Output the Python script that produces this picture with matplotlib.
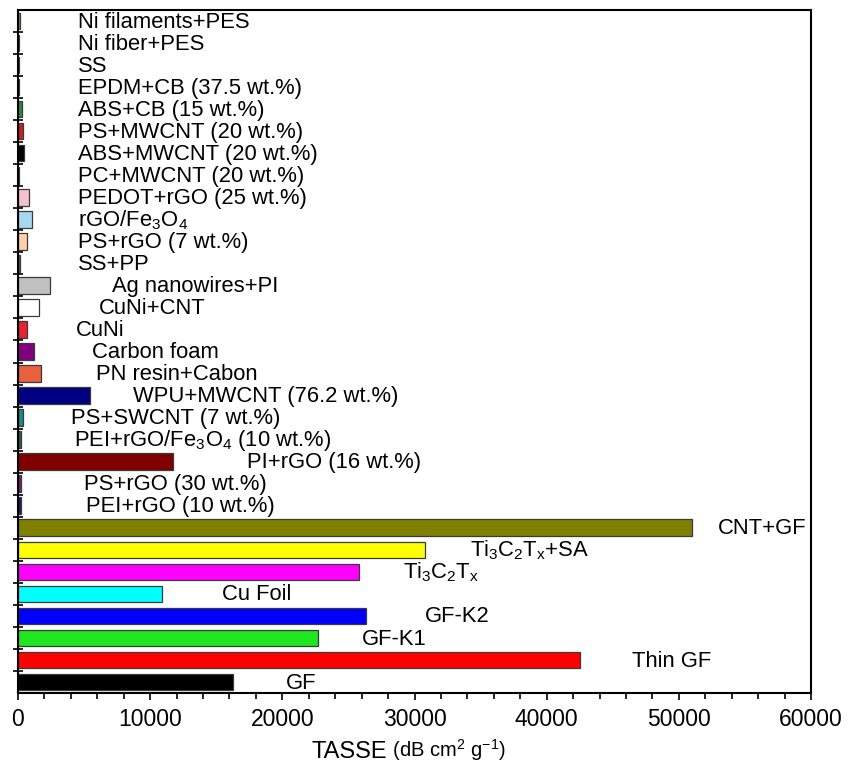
import matplotlib
matplotlib.use('agg')
import matplotlib.pyplot as plt
from matplotlib.ticker import MultipleLocator

plt.rcParams['font.family'] = 'Liberation Sans'
plt.rcParams['mathtext.fontset'] = 'custom'
plt.rcParams['mathtext.rm'] = 'Liberation Sans'
plt.rcParams['mathtext.it'] = 'Liberation Sans'

# materials listed top to bottom
materials = [
    "Ni filaments+PES", "Ni fiber+PES", "SS", "EPDM+CB (37.5 wt.%)",
    "ABS+CB (15 wt.%)", "PS+MWCNT (20 wt.%)", "ABS+MWCNT (20 wt.%)",
    "PC+MWCNT (20 wt.%)", "PEDOT+rGO (25 wt.%)", "rGO/Fe$_3$O$_4$",
    "PS+rGO (7 wt.%)", "SS+PP", "Ag nanowires+PI", "CuNi+CNT", "CuNi",
    "Carbon foam", "PN resin+Cabon", "WPU+MWCNT (76.2 wt.%)",
    "PS+SWCNT (7 wt.%)", "PEI+rGO/Fe$_3$O$_4$ (10 wt.%)", "PI+rGO (16 wt.%)",
    "PS+rGO (30 wt.%)", "PEI+rGO (10 wt.%)",
    "CNT+GF", "Ti$_3$C$_2$T$_x$+SA", "Ti$_3$C$_2$T$_x$", "Cu Foil",
    "GF-K2", "GF-K1", "Thin GF", "GF",
]
tasse = [
    120, 50, 40, 40, 300, 400, 480, 100, 830, 1040, 700, 150, 2420, 1610,
    700, 1230, 1720, 5450, 350, 230, 11760, 250, 200,
    51000, 30800, 25800, 10900, 26300, 22700, 42500, 16300,
]
colors = [
    '#9a9a3a', '#202020', '#202020', '#404040', '#2e8b3a', '#cc1f1f',
    '#000000', '#303030', '#f4c2cc', '#a6d8f0', '#fcd2a6', '#606060',
    '#c0c0c0', '#ffffff', '#ea2230', '#800080', '#e8603c', '#000080',
    '#1a8a8a', '#2f5f3f', '#800000', '#7a1a7a', '#1c1c5c',
    '#808000', '#ffff00', '#ff00ff', '#00ffff', '#0000ff', '#1fe61f',
    '#ff0000', '#000000',
]
# where each name is written along the x axis
label_x = [
    4540, 4540, 4540, 4540, 4540, 4540, 4540, 4540, 4540, 4540, 4540, 4540,
    7110, 6130, 4390, 5600, 5900, 8700, 4010, 4240, 17330, 4990, 5140,
    52960, 34200, 29130, 15430, 30790, 26030, 46460, 20280,
]

fig = plt.figure(figsize=(8.48, 7.71), dpi=100)
ax = fig.add_axes([18 / 848, 1 - 693 / 771, 793 / 848, 683 / 771])

ypos = list(range(len(materials)))
ax.barh(ypos, tasse, height=0.75, color=colors, edgecolor='#3a3a3a',
        linewidth=0.9)

for yi, xi, name in zip(ypos, label_x, materials):
    ax.text(xi, yi + 0.3, name, ha='left', va='baseline', fontsize=15.8)

ax.set_xlim(0, 60000)
ax.set_ylim(len(materials) - 0.5, -0.5)

# y ticks sit on the boundaries between bars
ax.set_yticks([i + 0.5 for i in range(len(materials) - 1)])
ax.set_yticklabels([])
ax.tick_params(axis='y', direction='inout', length=7, width=1.2)

ax.xaxis.set_major_locator(MultipleLocator(10000))
ax.xaxis.set_minor_locator(MultipleLocator(2000))
ax.tick_params(axis='x', which='major', direction='out', length=5, width=1.2,
               labelsize=16.5, pad=6)
ax.tick_params(axis='x', which='minor', direction='out', length=4, width=1.2)
for sp in ax.spines.values():
    sp.set_linewidth(1.5)

# x label: name in larger type, units smaller
t1 = fig.text(311 / 848, 1 - 758 / 771, 'TASSE', fontsize=17, ha='left',
              va='baseline')
ax.annotate(r' (dB cm$^2$ g$^{-1}$)', xy=(1, 0), xycoords=t1, fontsize=14.5,
            ha='left', va='bottom')

fig.savefig('out.png', dpi=100)
